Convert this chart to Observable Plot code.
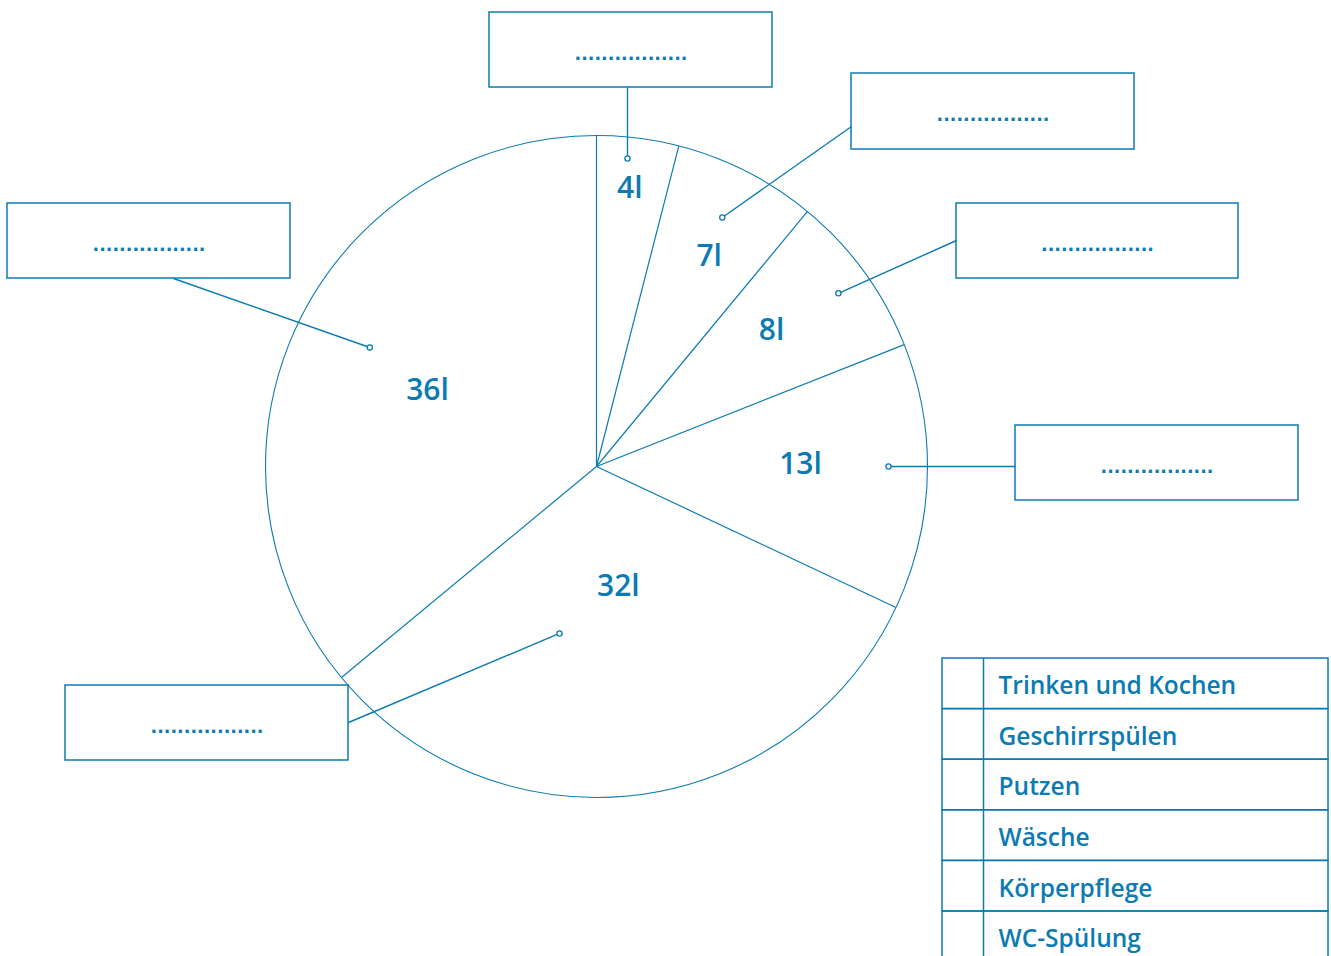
<!DOCTYPE html>
<html>
<head>
<meta charset="utf-8">
<script src="https://cdn.jsdelivr.net/npm/d3@7"></script>
<script src="https://cdn.jsdelivr.net/npm/@observablehq/plot@0.6"></script>
<style>
  html, body { margin: 0; padding: 0; background: #fff; overflow: hidden; }
  #chart svg { display: block; }
</style>
</head>
<body>
<div id="chart"></div>
<script>
// ---- data ----
const slices = ["Trinken und Kochen", "Geschirrspülen", "Putzen", "Wäsche", "WC-Spülung", "Körperpflege"];
const litres = [4, 7, 8, 13, 32, 36];
const sliceLabels = ["4l", "7l", "8l", "13l", "32l", "36l"];
const legendItems = ["Trinken und Kochen", "Geschirrspülen", "Putzen", "Wäsche", "Körperpflege", "WC-Spülung"];
const blankText = ".................";

// ---- layout ----
const W = 1331, H = 956;
const cx = 596, cy = 466, R = 331;
const labelRadius = [282, 240, 223, 204, 120, 186];
const labelAngleShift = [-0.4, 1.0, -2.3, -2.9, -3.3, -0.5];     // degrees from slice mid angle
const calloutRadius = [309.6, 279, 297.5, 292, 171, 256];
const calloutAngleShift = [-1.45, -0.2, 0.4, -1.8, 19.7, 2.5];   // degrees from slice mid angle
const boxes = [
  {x1: 489, x2: 772, y1: 12, y2: 87, ax: 627, ay: 87},
  {x1: 851, x2: 1134, y1: 73, y2: 149, ax: 851, ay: 126},
  {x1: 956, x2: 1238, y1: 203, y2: 278, ax: 956, ay: 240},
  {x1: 1015, x2: 1298, y1: 425, y2: 500, ax: 1015, ay: 466},
  {x1: 65, x2: 348, y1: 685, y2: 760, ax: 348, ay: 722},
  {x1: 7, x2: 290, y1: 203, y2: 278, ax: 173, ay: 278}
];
const legend = {x1: 942, xSplit: 983, x2: 1328, top: 658, rowH: 50.6, textX: 998};
const blue = "#0b7bb2";
const font = "'Open Sans', Lato, sans-serif";

// ---- computed geometry from data ----
const deg = Math.PI / 180;
const arcs = d3.pie().sort(null).startAngle(0).endAngle(2 * Math.PI)(litres);
const mid = a => (a.startAngle + a.endAngle) / 2;
const polar = (a, r) => ({x: cx + r * Math.sin(a), y: cy - r * Math.cos(a)});
const spokes = arcs.map(a => { const p = polar(a.startAngle, R); return {x1: cx, y1: cy, x2: p.x, y2: p.y}; });
const labels = arcs.map((a, i) => ({...polar(mid(a) + labelAngleShift[i] * deg, labelRadius[i]), text: sliceLabels[i]}));
const calloutPts = arcs.map((a, i) => {
  const p = polar(mid(a) + calloutAngleShift[i] * deg, calloutRadius[i]);
  return {x: p.x, y: p.y, bx: boxes[i].ax, by: boxes[i].ay};
});
const boxTexts = boxes.map(b => ({x: (b.x1 + b.x2) / 2, y: (b.y1 + b.y2) / 2 + 4, text: blankText}));
const legendRows = legendItems.map((t, i) => ({
  text: t,
  y1: legend.top + i * legend.rowH,
  y2: legend.top + (i + 1) * legend.rowH
}));

const chart = Plot.plot({
  width: W,
  height: H,
  margin: 0,
  style: {background: "white", overflow: "hidden"},
  x: {domain: [0, W], range: [0, W], axis: null},
  y: {domain: [0, H], range: [0, H], axis: null},
  marks: [
    Plot.dot([{x: cx, y: cy}], {x: "x", y: "y", r: R, stroke: blue, strokeWidth: 1.1, fill: "none"}),
    Plot.link(spokes, {x1: "x1", y1: "y1", x2: "x2", y2: "y2", stroke: blue, strokeWidth: 1.2}),
    Plot.link(calloutPts, {x1: "bx", y1: "by", x2: "x", y2: "y", stroke: blue, strokeWidth: 1.4}),
    Plot.dot(calloutPts, {x: "x", y: "y", r: 2.6, stroke: blue, strokeWidth: 1.3, fill: "white"}),
    Plot.rect(boxes, {x1: "x1", x2: "x2", y1: "y1", y2: "y2", stroke: blue, strokeWidth: 1.5, fill: "none"}),
    Plot.text(boxTexts, {x: "x", y: "y", text: "text", fill: blue, fontSize: 17.5, fontWeight: 700, fontFamily: "'DejaVu Sans'", textAnchor: "middle"}),
    Plot.text(labels, {x: "x", y: "y", dy: 2, text: "text", fill: blue, fontSize: 30, fontWeight: 600, fontFamily: font, textAnchor: "middle", lineAnchor: "middle"}),
    Plot.rect(legendRows, {x1: legend.x1, x2: legend.x2, y1: "y1", y2: "y2", stroke: blue, strokeWidth: 1.5, fill: "none"}),
    Plot.ruleX([legend.xSplit], {y1: legend.top, y2: H + 10, stroke: blue, strokeWidth: 1.5}),
    Plot.text(legendRows, {x: legend.textX, y: d => (d.y1 + d.y2) / 2 + 2.5, text: "text", fill: blue, fontSize: 24.5, fontWeight: 600, fontFamily: font, textAnchor: "start", lineAnchor: "middle"})
  ]
});
document.getElementById("chart").appendChild(chart);
</script>
</body>
</html>
